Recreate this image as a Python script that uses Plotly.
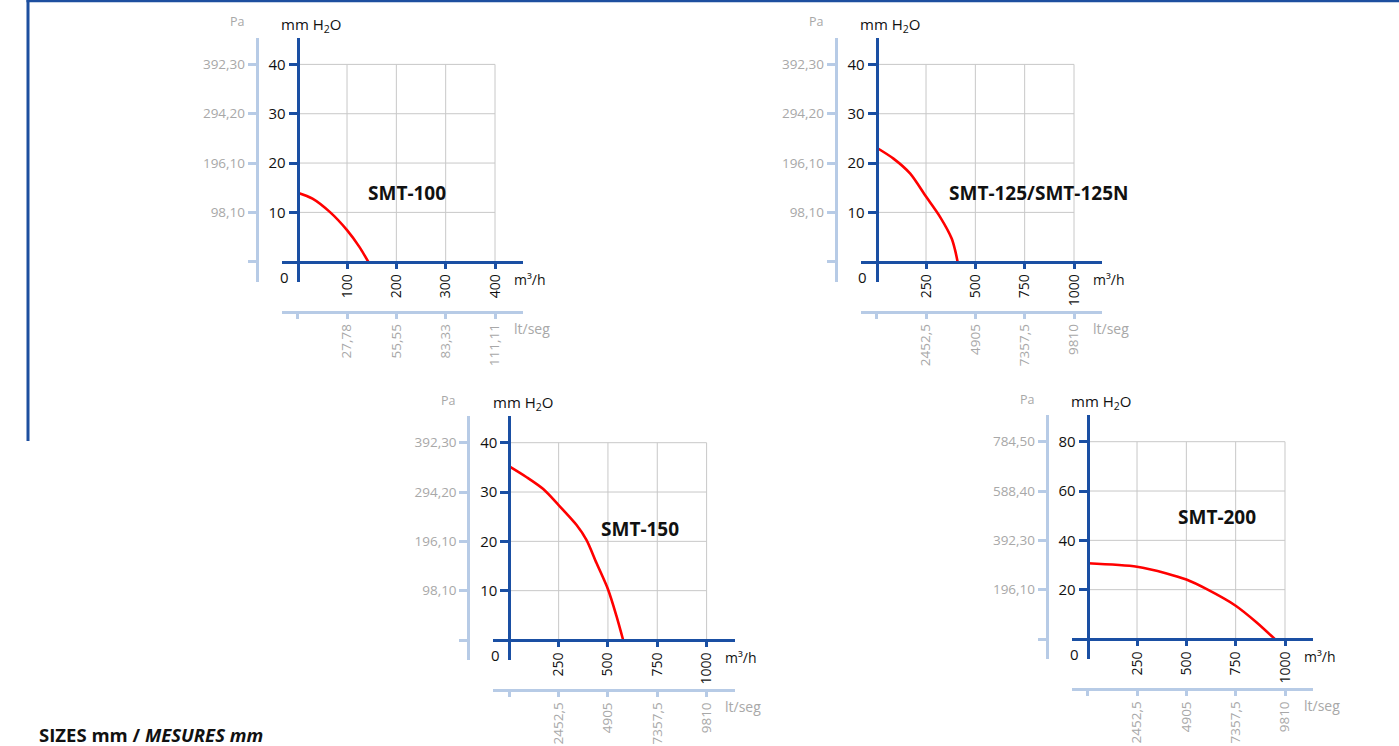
import plotly.graph_objects as go

# ---------------- data ----------------
chart_names = ["SMT-100", "SMT-125/SMT-125N", "SMT-150", "SMT-200"]

x_ticks_100 = [100, 200, 300, 400]
x_ticks_1000 = [250, 500, 750, 1000]
y_ticks_40 = [10, 20, 30, 40]
y_ticks_80 = [20, 40, 60, 80]

pa_labels_40 = ["98,10", "196,10", "294,20", "392,30"]
pa_labels_80 = ["196,10", "392,30", "588,40", "784,50"]
lt_labels_100 = ["27,78", "55,55", "83,33", "111,11"]
lt_labels_1000 = ["2452,5", "4905", "7357,5", "9810"]

smt100_flow = [0, 30, 65, 100, 125, 143]
smt100_pres = [14.0, 12.8, 10.1, 6.4, 3.0, 0]

smt125_flow = [0, 85, 169, 250, 321, 380, 397, 410]
smt125_pres = [23.1, 20.9, 17.9, 13.2, 9.1, 4.7, 2.4, 0]

smt150_flow = [0, 88, 172, 251, 341, 391, 442, 501, 543, 577]
smt150_pres = [35.2, 33.0, 30.6, 27.3, 23.3, 20.3, 15.6, 10.2, 4.9, 0]

smt200_flow = [0, 250, 400, 500, 601, 750, 855, 948]
smt200_pres = [30.7, 29.3, 26.6, 24.1, 20.3, 13.5, 6.8, 0]

# ---------------- layout geometry (pixels) ----------------
W, H = 1399, 746
G = 197.3  # grid size in px
origins = [(297.7, 261.7), (876.7, 261.7), (509.3, 640.0), (1087.7, 639.0)]
label_pos = [(221, 14.0), (818, 14.0), (663, 22.5), (656, 49.6)]

charts = [
    dict(name=chart_names[0], xt=x_ticks_100, yt=y_ticks_40, pa=pa_labels_40, lt=lt_labels_100,
         fx=smt100_flow, fy=smt100_pres),
    dict(name=chart_names[1], xt=x_ticks_1000, yt=y_ticks_40, pa=pa_labels_40, lt=lt_labels_1000,
         fx=smt125_flow, fy=smt125_pres),
    dict(name=chart_names[2], xt=x_ticks_1000, yt=y_ticks_40, pa=pa_labels_40, lt=lt_labels_1000,
         fx=smt150_flow, fy=smt150_pres),
    dict(name=chart_names[3], xt=x_ticks_1000, yt=y_ticks_80, pa=pa_labels_80, lt=lt_labels_1000,
         fx=smt200_flow, fy=smt200_pres),
]

BLUE = "#1a4fa3"
LBLUE = "#b7cbe6"
GRAY = "#a8a8a8"
GRID = "#c8c8c8"
RED = "#ff0000"
FONT = "Open Sans"


def px(x):
    return x / W


def py(y):
    return 1 - y / H


fig = go.Figure()
annotations = []
shapes = []
layout = {}

for k, c in enumerate(charts):
    ox, oy = origins[k]
    xmax = c["xt"][-1]
    ymax = c["yt"][-1]
    xr = [-16 / G * xmax, 225.6 / G * xmax]
    yr = [-20.3 / G * ymax, 223.7 / G * ymax]
    mx, sx = 2 * k + 1, 2 * k + 2
    my, sy = 2 * k + 1, 2 * k + 2
    mxn = "x" if mx == 1 else f"x{mx}"
    myn = "y" if my == 1 else f"y{my}"
    mxk = "xaxis" if mx == 1 else f"xaxis{mx}"
    myk = "yaxis" if my == 1 else f"yaxis{my}"

    # grid from tick arrays
    gx, gy = [], []
    for v in [0] + c["xt"]:
        gx += [v, v, None]
        gy += [0, ymax, None]
    for v in [0] + c["yt"]:
        gx += [0, xmax, None]
        gy += [v, v, None]
    fig.add_trace(go.Scatter(x=gx, y=gy, mode="lines", line=dict(color=GRID, width=1),
                             xaxis=mxn, yaxis=myn, hoverinfo="skip", showlegend=False))
    fig.add_trace(go.Scatter(x=c["fx"], y=c["fy"], mode="lines",
                             line=dict(color=RED, width=2.6, shape="spline", smoothing=0.8),
                             xaxis=mxn, yaxis=myn, showlegend=False, name=c["name"]))
    fig.add_trace(go.Scatter(x=[None], y=[None], mode="lines", xaxis=f"x{sx}", yaxis=f"y{sy}",
                             showlegend=False, hoverinfo="skip"))

    layout[mxk] = dict(domain=[px(ox - 16), px(ox + 225.6)], range=xr, anchor="free",
                       position=py(oy), showgrid=False, zeroline=False, showline=True,
                       linecolor=BLUE, linewidth=3, ticks="outside", tickcolor=BLUE,
                       tickwidth=3, ticklen=5, tickvals=c["xt"], ticktext=[str(v) for v in c["xt"]],
                       tickangle=-90, tickfont=dict(family=FONT, size=14, color="#111111"),
                       fixedrange=True)
    layout[myk] = dict(domain=[py(oy + 20.3), py(oy - 223.7)], range=yr, anchor="free",
                       position=px(ox), showgrid=False, zeroline=False, showline=True,
                       linecolor=BLUE, linewidth=3, ticks="outside", tickcolor=BLUE,
                       tickwidth=3, ticklen=8, tickvals=c["yt"], ticktext=[str(v) for v in c["yt"]],
                       tickfont=dict(family=FONT, size=15, color="#111111"), fixedrange=True)
    layout[f"xaxis{sx}"] = dict(overlaying=mxn, range=xr, anchor="free", position=py(oy + 50),
                                side="bottom", showgrid=False, zeroline=False, showline=True,
                                linecolor=LBLUE, linewidth=3, ticks="outside", tickcolor=LBLUE,
                                tickwidth=3, ticklen=5, tickvals=c["xt"],
                                ticktext=c["lt"], tickangle=-90,
                                minor=dict(tickmode="array", tickvals=[0], ticks="outside",
                                           ticklen=5, tickwidth=3, tickcolor=LBLUE, showgrid=False),
                                tickfont=dict(family=FONT, size=13.5, color=GRAY), fixedrange=True)
    layout[f"yaxis{sy}"] = dict(overlaying=myn, range=yr, anchor="free", position=px(ox - 41),
                                side="left", showgrid=False, zeroline=False, showline=True,
                                linecolor=LBLUE, linewidth=3, ticks="outside", tickcolor=LBLUE,
                                tickwidth=3, ticklen=8, tickvals=c["yt"],
                                ticktext=c["pa"],
                                minor=dict(tickmode="array", tickvals=[0], ticks="outside",
                                           ticklen=8, tickwidth=3, tickcolor=LBLUE, showgrid=False),
                                tickfont=dict(family=FONT, size=13.5, color=GRAY), fixedrange=True)

    # text labels
    annotations += [
        dict(text="Pa", x=px(ox - 61), y=py(oy - 240), xref="paper", yref="paper",
             showarrow=False, xanchor="center", yanchor="middle",
             font=dict(family=FONT, size=12.5, color=GRAY)),
        dict(text="mm H<sub>2</sub>O", x=px(ox + 13.5), y=py(oy - 237), xref="paper", yref="paper",
             showarrow=False, xanchor="center", yanchor="middle",
             font=dict(family=FONT, size=15, color="#111111")),
        dict(text="0", x=px(ox - 13.7), y=py(oy + 15.3), xref="paper", yref="paper",
             showarrow=False, xanchor="center", yanchor="middle",
             font=dict(family=FONT, size=15, color="#111111")),
        dict(text="m³/h", x=px(ox + 214), y=py(oy + 17.3), xref="paper", yref="paper",
             showarrow=False, xanchor="left", yanchor="middle",
             font=dict(family=FONT, size=14, color="#111111")),
        dict(text="lt/seg", x=px(ox + 214), y=py(oy + 66.3), xref="paper", yref="paper",
             showarrow=False, xanchor="left", yanchor="middle",
             font=dict(family=FONT, size=14, color=GRAY)),
        dict(text=f"<b>{c['name']}</b>", x=label_pos[k][0], y=label_pos[k][1], xref=mxn, yref=myn,
             showarrow=False, xanchor="center", yanchor="middle",
             font=dict(family=FONT, size=19, color="#111111")),
    ]

annotations.append(dict(text="<b>SIZES mm / <i>MESURES mm</i></b>", x=px(37), y=py(734),
                        xref="paper", yref="paper", showarrow=False, xanchor="left",
                        yanchor="middle", font=dict(family=FONT, size=18.5, color="#111111")))

BORDER = "#1d4f9f"
shapes += [
    dict(type="line", xref="paper", yref="paper", x0=px(26.5), x1=1, y0=py(1), y1=py(1),
         line=dict(color=BORDER, width=2.5)),
    dict(type="line", xref="paper", yref="paper", x0=px(28), x1=px(28), y0=py(0), y1=py(441),
         line=dict(color=BORDER, width=3)),
]

fig.update_layout(width=W, height=H, margin=dict(l=0, r=0, t=0, b=0),
                  paper_bgcolor="white", plot_bgcolor="white", showlegend=False,
                  annotations=annotations, shapes=shapes, font=dict(family=FONT), **layout)

fig.write_html("out.html", config={"displayModeBar": False},
               post_script="document.body.style.margin='0';"
                           "document.documentElement.style.overflow='hidden';")
